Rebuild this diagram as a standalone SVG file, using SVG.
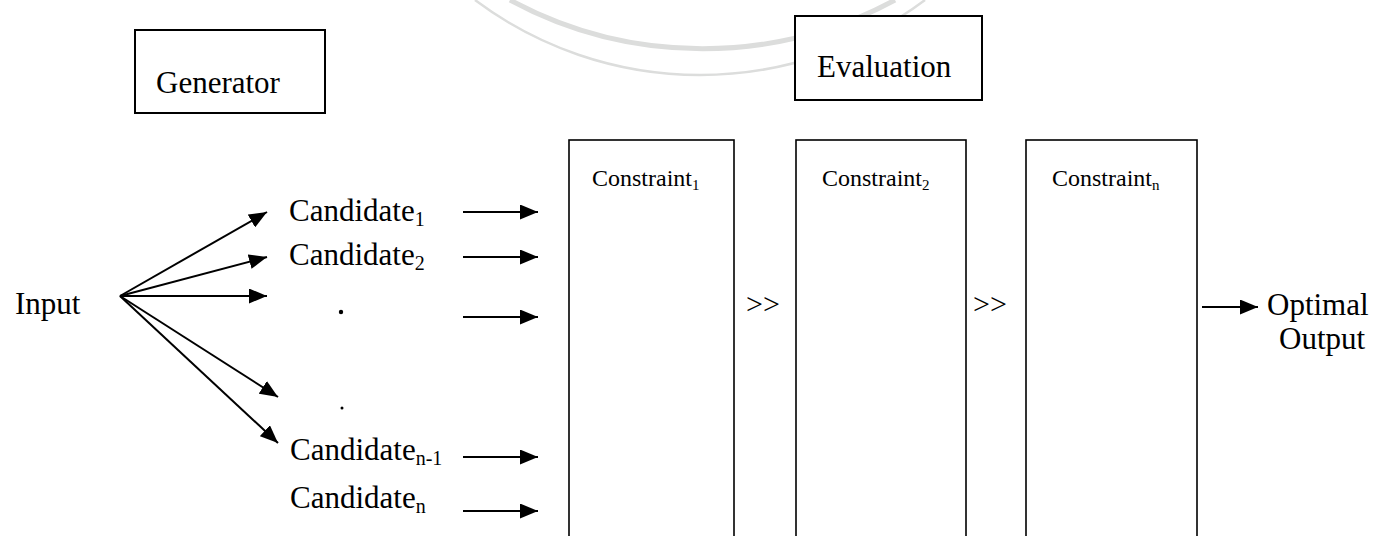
<svg xmlns="http://www.w3.org/2000/svg" width="1373" height="536" viewBox="0 0 1373 536">
<style>
.t{font-family:"Liberation Serif","Times New Roman",serif;fill:#000}
.big{font-size:31px}
.mid{font-size:24px}
.box{fill:#fff;stroke:#000;stroke-width:2}
.cbox{fill:#fff;stroke:#000;stroke-width:1.6}
.arr{stroke:#000;stroke-width:2;fill:none;marker-end:url(#ah)}
.wm{fill:none;stroke:#dcdddc}
</style>
<defs>
<marker id="ah" markerUnits="userSpaceOnUse" markerWidth="19" markerHeight="15" refX="18" refY="7.5" orient="auto">
<path d="M0,0 L18,7.5 L0,15 Z" fill="#000"/>
</marker>
</defs>
<g id="watermark">
<path class="wm" stroke-width="5" d="M510,0 A405,405 0 0 0 895,0"/>
<path class="wm" stroke-width="2.5" d="M475,0 A375,375 0 0 0 925,0"/>
</g>
<g id="generator">
<rect class="box" x="135" y="30" width="190" height="83"/>
<text class="t big" x="156" y="93">Generator</text>
</g>
<g id="evaluation">
<rect class="box" x="795" y="16" width="187" height="84"/>
<text class="t big" x="817" y="77">Evaluation</text>
</g>
<g id="input">
<text class="t big" x="15" y="314">Input</text>
</g>
<g id="candidates">
<text class="t big" x="289" y="221">Candidate<tspan font-size="20" dy="5">1</tspan></text>
<text class="t big" x="289" y="265">Candidate<tspan font-size="20" dy="5">2</tspan></text>
<circle cx="341" cy="312" r="2.2" fill="#000"/>
<circle cx="342" cy="408" r="1.5" fill="#000"/>
<text class="t big" x="290" y="460">Candidate<tspan font-size="20" dy="5">n-1</tspan></text>
<text class="t big" x="290" y="508">Candidate<tspan font-size="20" dy="5">n</tspan></text>
</g>
<g id="constraint1">
<rect class="cbox" x="569" y="140" width="165" height="410"/>
<text class="t mid" x="592" y="186">Constraint<tspan font-size="15" dy="4">1</tspan></text>
</g>
<g id="constraint2">
<rect class="cbox" x="796" y="140" width="170" height="410"/>
<text class="t mid" x="822" y="186">Constraint<tspan font-size="15" dy="4">2</tspan></text>
</g>
<g id="constraintn">
<rect class="cbox" x="1026" y="140" width="171" height="410"/>
<text class="t mid" x="1052" y="186">Constraint<tspan font-size="15" dy="4">n</tspan></text>
</g>
<g id="ranking">
<text class="t" font-size="30" x="746" y="314">&gt;&gt;</text>
<text class="t" font-size="30" x="973" y="314">&gt;&gt;</text>
</g>
<g id="output">
<text class="t big" x="1267" y="315">Optimal</text>
<text class="t big" x="1279" y="349">Output</text>
</g>
<g id="connectors">
<line class="arr" x1="120" y1="296" x2="267" y2="212"/>
<line class="arr" x1="120" y1="296" x2="267" y2="257"/>
<line class="arr" x1="120" y1="296" x2="267" y2="296"/>
<line class="arr" x1="120" y1="296" x2="278" y2="397"/>
<line class="arr" x1="120" y1="296" x2="278" y2="443"/>
<line class="arr" x1="463" y1="212" x2="538" y2="212"/>
<line class="arr" x1="463" y1="257" x2="538" y2="257"/>
<line class="arr" x1="463" y1="317" x2="538" y2="317"/>
<line class="arr" x1="463" y1="457" x2="538" y2="457"/>
<line class="arr" x1="463" y1="511" x2="538" y2="511"/>
<line class="arr" x1="1202" y1="307" x2="1258" y2="307"/>
</g>
</svg>
